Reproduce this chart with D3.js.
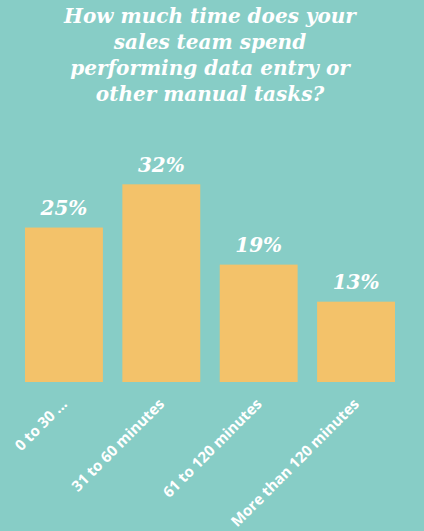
<!DOCTYPE html>
<html>
<head>
<meta charset="utf-8">
<script src="https://cdn.jsdelivr.net/npm/d3@7"></script>
<style>
  html, body { margin: 0; padding: 0; background: #87cdc6; }
</style>
</head>
<body>
<div id="chart"></div>
<script>
// chart data
const categories = ["0 to 30 ...", "31 to 60 minutes", "61 to 120 minutes", "More than 120 minutes"];
const values = [25, 32, 19, 13];
const titleLines = ["How much time does your", "sales team spend", "performing data entry or", "other manual tasks?"];

const width = 424;
const height = 531;
const marginLeft = 25;
const marginRight = 29;
const baseline = 382;
const barColor = "#f3c26a";
const bgColor = "#87cdc6";

const svg = d3
  .select("#chart")
  .append("svg")
  .attr("width", width)
  .attr("height", height)
  .attr("viewBox", [0, 0, width, height])
  .style("display", "block");

svg.append("rect").attr("width", width).attr("height", height).attr("fill", bgColor);

// title
svg
  .append("g")
  .selectAll("text")
  .data(titleLines)
  .join("text")
  .attr("x", width / 2 - 2)
  .attr("y", (d, i) => 22.5 + i * 26.2)
  .attr("text-anchor", "middle")
  .attr("fill", "#ffffff")
  .attr("font-family", "DejaVu Serif")
  .attr("font-style", "italic")
  .attr("font-weight", 700)
  .attr("font-size", 20)
  .text((d) => d);

// scales
const xScale = d3
  .scaleBand()
  .domain(categories)
  .range([marginLeft, width - marginRight])
  .paddingInner(0.2)
  .paddingOuter(0);

const yScale = d3.scaleLinear().domain([0, 32]).range([baseline, 184.3]);

// bars
svg
  .append("g")
  .selectAll("rect")
  .data(values)
  .join("rect")
  .attr("x", (d, i) => xScale(categories[i]))
  .attr("y", (d) => yScale(d))
  .attr("width", xScale.bandwidth())
  .attr("height", (d) => yScale(0) - yScale(d))
  .attr("fill", barColor);

// value labels
svg
  .append("g")
  .selectAll("text")
  .data(values)
  .join("text")
  .attr("x", (d, i) => xScale(categories[i]) + xScale.bandwidth() / 2)
  .attr("y", (d) => yScale(d) - 12.5)
  .attr("text-anchor", "middle")
  .attr("fill", "#ffffff")
  .attr("font-family", "DejaVu Serif")
  .attr("font-style", "italic")
  .attr("font-weight", 700)
  .attr("font-size", 20)
  .text((d) => d + "%");

// x axis, rotated labels
const xAxis = d3.axisBottom(xScale).tickSize(0).tickPadding(0);
svg
  .append("g")
  .attr("transform", `translate(0,${baseline})`)
  .call(xAxis)
  .call((g) => g.select(".domain").remove())
  .call((g) =>
    g
      .selectAll(".tick text")
      .attr("fill", "#ffffff")
      .attr("font-family", "Open Sans")
      .attr("font-weight", 700)
      .attr("font-size", 15)
      .attr("text-anchor", "end")
      .attr("dy", 0)
      .attr("transform", "translate(4,23) rotate(-45)")
  );
</script>
</body>
</html>
